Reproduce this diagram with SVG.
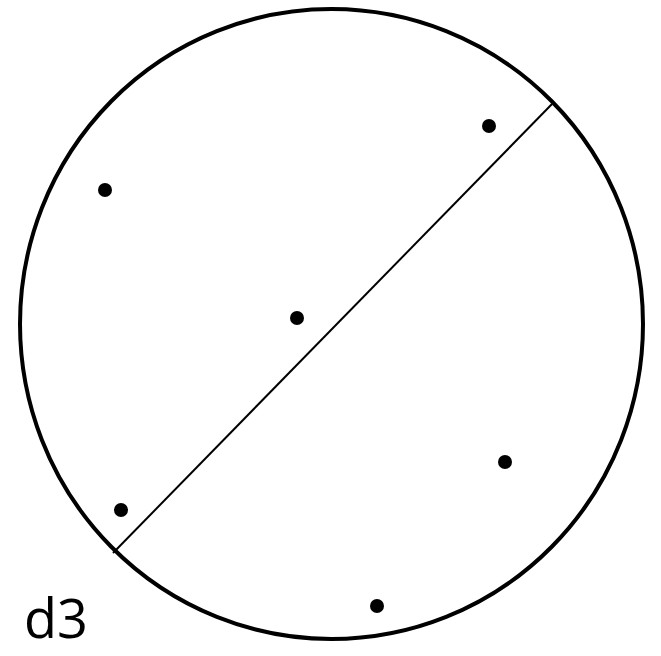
<svg xmlns="http://www.w3.org/2000/svg" width="661" height="656" viewBox="0 0 661 656">
<style>
.dot{fill:#000}
</style>
<rect width="661" height="656" fill="#fff"/>
<g id="circle"><ellipse cx="331.5" cy="324" rx="311.5" ry="315" fill="none" stroke="#000" stroke-width="4"/></g>
<g id="connectors"><line x1="552" y1="104" x2="113" y2="553" stroke="#000" stroke-width="2"/></g>
<g id="points">
<circle class="dot" cx="489" cy="126" r="7"/>
<circle class="dot" cx="105" cy="190" r="7"/>
<circle class="dot" cx="297" cy="318" r="7"/>
<circle class="dot" cx="505" cy="462" r="7"/>
<circle class="dot" cx="121" cy="510" r="7"/>
<circle class="dot" cx="377" cy="606" r="7"/>
</g>
<text x="24" y="638" font-family="Open Sans, sans-serif" font-size="54">d3</text>
</svg>
